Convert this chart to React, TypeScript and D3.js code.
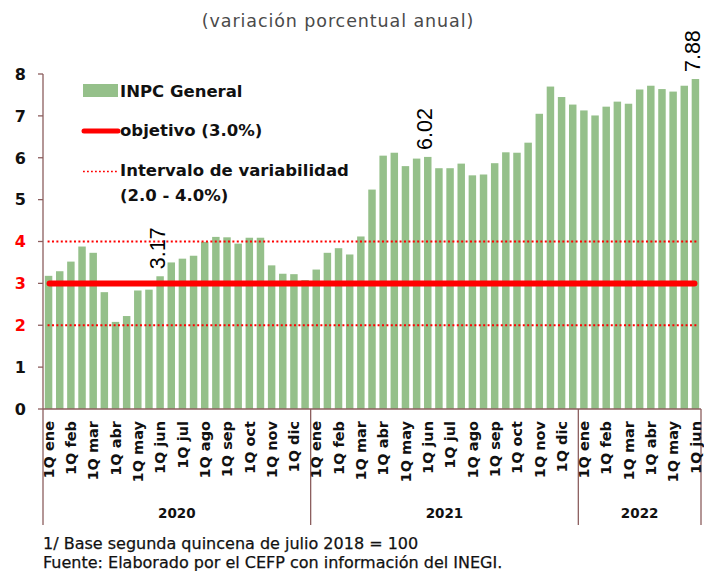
import React from "react";
import * as d3 from "d3";

const years = ["2020", "2021", "2022"];
const months = ["ene", "feb", "mar", "abr", "may", "jun", "jul", "ago", "sep", "oct", "nov", "dic"];
const values2020 = [3.18, 3.29, 3.52, 3.88, 3.73, 2.79, 2.08, 2.22, 2.83, 2.85, 3.17, 3.5, 3.59, 3.66, 3.99, 4.11, 4.1, 3.95, 4.09, 4.09, 3.43, 3.23, 3.22, 3.08];
const values2021 = [3.33, 3.73, 3.84, 3.69, 4.12, 5.24, 6.05, 6.12, 5.8, 5.98, 6.02, 5.75, 5.75, 5.86, 5.58, 5.6, 5.87, 6.13, 6.12, 6.36, 7.05, 7.7, 7.45, 7.27];
const values2022 = [7.13, 7.01, 7.22, 7.34, 7.29, 7.63, 7.72, 7.64, 7.58, 7.72, 7.88];
const labeledValues = ["3.17", "6.02", "7.88"];
const labeledIndex = [10, 34, 58];
const yTicks = [0, 1, 2, 3, 4, 5, 6, 7, 8];
const redTicks = [2, 3, 4];
const target = 3.0;
const bandLow = 2.0;
const bandHigh = 4.0;
const title = "(variación porcentual anual)";
const legendLabels = ["INPC General", "objetivo (3.0%)", "Intervalo de variabilidad", "(2.0 - 4.0%)"];
const notes = ["1/ Base segunda quincena de julio 2018 = 100", "Fuente: Elaborado por el CEFP con información del INEGI."];

const yearValues = [values2020, values2021, values2022];

type Pt = { i: number; year: string; q: number; month: string; v: number };
const data: Pt[] = [];
yearValues.forEach((vals, yi) => {
  vals.forEach((v, k) => {
    data.push({ i: data.length, year: years[yi], q: (k % 2) + 1, month: months[Math.floor(k / 2)], v });
  });
});

const GOTHIC = "'DejaVu Sans', sans-serif";
const ARIAL = "'Liberation Sans', Arial, sans-serif";
const AXIS = "#8c5e5e";
const GREEN = "#95c08a";
const RED = "#ff0000";

export default function App() {
  const W = 704, H = 571;
  const left = 43, right = 701, top = 74, bottom = 409;
  const x = d3.scaleBand<number>().domain(data.map((d) => d.i)).range([left, right]).paddingInner(0.33).paddingOuter(0.165);
  const y = d3.scaleLinear().domain([0, 8]).range([bottom, top]);
  const step = x.step();
  const cx = (i: number) => (x(i) as number) + x.bandwidth() / 2;

  const yearStarts: number[] = [];
  let acc = 0;
  yearValues.forEach((vals) => {
    yearStarts.push(acc);
    acc += vals.length;
  });
  const bounds = [...yearStarts, acc].map((idx) => left + idx * step);

  const lineX1 = cx(0) - 1;
  const lineX2 = cx(data.length - 1) + 1;

  return (
    <svg width={W} height={H} style={{ position: "absolute", left: 0, top: 0, background: "#fff" }}>
      <text x={338} y={27} textAnchor="middle" fontFamily={GOTHIC} fontSize={17.5} letterSpacing={0.9} fill="#4a4a4a">{title}</text>

      {data.map((d) => (
        <rect key={d.i} x={x(d.i)} y={y(d.v)} width={x.bandwidth()} height={y(0) - y(d.v)} fill={GREEN} />
      ))}

      {[bandLow, bandHigh].map((b) => (
        <line key={b} x1={lineX1} x2={lineX2} y1={y(b)} y2={y(b)} stroke={RED} strokeWidth={2} strokeDasharray="2,2.4" />
      ))}
      <line x1={lineX1 + 2} x2={lineX2 - 2} y1={y(target)} y2={y(target)} stroke={RED} strokeWidth={6} strokeLinecap="round" />

      <line x1={left} x2={left} y1={top} y2={bottom} stroke={AXIS} strokeWidth={1.3} />
      {yTicks.map((t) => (
        <g key={t}>
          <line x1={left - 5} x2={left} y1={y(t)} y2={y(t)} stroke={AXIS} strokeWidth={1.3} />
          <text x={26} y={y(t)} dy="0.36em" textAnchor="end" fontFamily={GOTHIC} fontWeight="bold" fontSize={16} fill={redTicks.includes(t) ? RED : "#111"}>{t}</text>
        </g>
      ))}

      <line x1={left} x2={right} y1={bottom} y2={bottom} stroke={AXIS} strokeWidth={1.3} />
      {bounds.map((bx, k) => (
        <line key={k} x1={bx} x2={bx} y1={bottom} y2={525} stroke={AXIS} strokeWidth={1.3} />
      ))}
      {data.filter((d) => d.q === 1).map((d) => (
        <text key={d.i} transform={`translate(${cx(d.i)},${421}) rotate(-90)`} dy="0.36em" textAnchor="end" fontFamily={GOTHIC} fontWeight="bold" fontSize={14.5} fill="#111">{`1Q ${d.month}`}</text>
      ))}
      {years.map((yr, k) => (
        <text key={yr} x={(bounds[k] + bounds[k + 1]) / 2} y={518} textAnchor="middle" fontFamily={GOTHIC} fontWeight="bold" fontSize={13.5} fill="#111">{yr}</text>
      ))}

      {labeledIndex.map((idx, k) => (
        <text key={idx} transform={`translate(${cx(idx)},${y(data[idx].v) - 7}) rotate(-90)`} dy="0.22em" textAnchor="start" fontFamily={ARIAL} fontSize={21.5} fill="#000">{labeledValues[k]}</text>
      ))}

      <rect x={83} y={84} width={35} height={13} fill={GREEN} />
      <text x={120} y={97} fontFamily={GOTHIC} fontWeight="bold" fontSize={16.5} fill="#111">{legendLabels[0]}</text>
      <line x1={84} x2={118} y1={131} y2={131} stroke={RED} strokeWidth={5} strokeLinecap="round" />
      <text x={120} y={136} fontFamily={GOTHIC} fontWeight="bold" fontSize={16.5} fill="#111">{legendLabels[1]}</text>
      <line x1={83} x2={118} y1={171.5} y2={171.5} stroke={RED} strokeWidth={1.6} strokeDasharray="1.8,2.2" />
      <text x={120} y={176} fontFamily={GOTHIC} fontWeight="bold" fontSize={16.5} fill="#111">{legendLabels[2]}</text>
      <text x={120} y={201} fontFamily={GOTHIC} fontWeight="bold" fontSize={16.5} fill="#111">{legendLabels[3]}</text>

      {notes.map((n, k) => (
        <text key={k} x={43} y={549 + k * 19} fontFamily={GOTHIC} fontSize={16} fill="#111" stroke="#111" strokeWidth={0.25}>{n}</text>
      ))}
    </svg>
  );
}
